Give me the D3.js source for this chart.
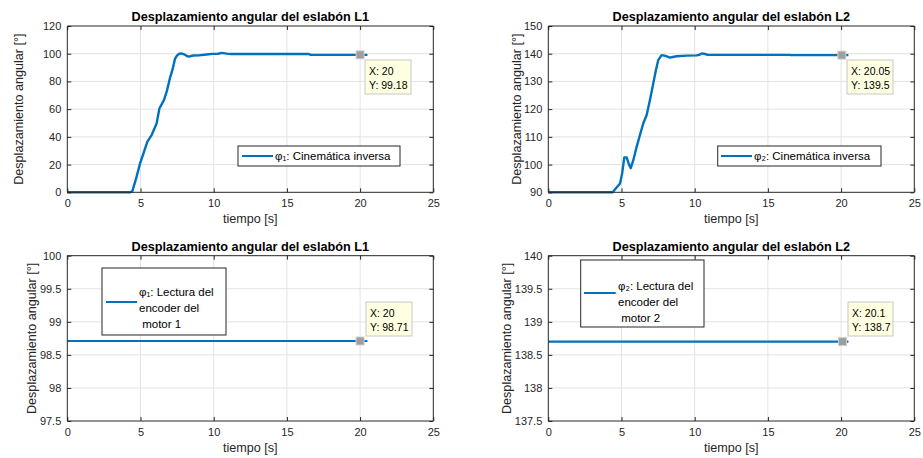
<!DOCTYPE html>
<html><head><meta charset="utf-8">
<script src="https://cdn.jsdelivr.net/npm/d3@7"></script>
<style>
body{margin:0;background:#fff;}
svg{display:block;font-family:"Liberation Sans",Arial,sans-serif;}
</style></head><body>
<svg id="c" width="923" height="458"></svg>
<script>
// ---- data ----
const xTicks = [0,5,10,15,20,25];
const tPhi1 = [0,1,2,3,4,4.3,4.45,4.7,4.97,5.2,5.47,5.76,6.1,6.29,6.6,6.8,7.0,7.2,7.36,7.5,7.65,7.8,7.97,8.15,8.3,8.6,9.0,9.5,9.9,10.3,10.55,10.9,11.2,12,14,16.5,16.6,18,20,20.5];
const phi1 = [0,0,0,0,0,0,1,10,20.9,28,36.5,41.3,49.7,60.5,66.5,73,82,89,96.5,98.8,100,100.2,99.6,98.5,97.9,98.7,98.8,99.4,99.9,100,100.6,100.1,99.8,99.8,99.8,99.8,99.2,99.2,99.18,99.2];
const tPhi2 = [0,1,2,3,4,4.4,4.55,4.71,4.9,5.05,5.19,5.35,5.48,5.63,5.8,6.04,6.25,6.49,6.72,6.95,7.17,7.35,7.51,7.74,8.0,8.31,8.5,8.77,9.45,10.13,10.3,10.48,10.7,10.9,12,14,16.5,16.6,18,20.05,20.5];
const phi2 = [90,90,90,90,90,90,91,92,93.2,97,102.6,102.6,100.5,98.7,101.5,106.5,110.5,114.9,117.9,123.5,129.3,134,137.7,139.5,139.2,138.6,138.8,139.1,139.3,139.4,139.6,140.1,139.9,139.6,139.6,139.6,139.6,139.5,139.5,139.5,139.5];
const tEnc = [0,20.5];
const enc1 = [98.71,98.71];
const enc2 = [138.7,138.7];
const y1Ticks = [0,20,40,60,80,100,120];
const y2Ticks = [90,100,110,120,130,140,150];
const y3Ticks = [97.5,98,98.5,99,99.5,100];
const y4Ticks = [137.5,138,138.5,139,139.5,140];
const titles = ["Desplazamiento angular del eslabón L1","Desplazamiento angular del eslabón L2","Desplazamiento angular del eslabón L1","Desplazamiento angular del eslabón L2"];
const legends = [["φ₁: Cinemática inversa"],["φ₂: Cinemática inversa"],["φ₁: Lectura del","encoder del"," motor 1"],["φ₂: Lectura del","encoder del"," motor 2"]];
const tips = [{x:20,y:99.18,lx:"X: 20",ly:"Y: 99.18"},{x:20.05,y:139.5,lx:"X: 20.05",ly:"Y: 139.5"},{x:20,y:98.71,lx:"X: 20",ly:"Y: 98.71"},{x:20.1,y:138.7,lx:"X: 20.1",ly:"Y: 138.7"}];

const svg = d3.select("#c");
const lineColor = "#0072BD";
const axisColor = "#262626";

const panels = [
 {l:67.3,r:433.3,t:26,b:192.3,dom:[0,120],ticks:y1Ticks,xs:tPhi1,ys:phi1,fmt:d=>d,ylx:19,lw:2.4,
  leg:{x:238,y:146,w:162,h:20,lx1:242,lx2:273,ly:156,tx:275,lines:[160]},
  tip:{bx:365,by:60,bw:46,bh:34}},
 {l:548.3,r:914.3,t:26,b:192.3,dom:[90,150],ticks:y2Ticks,xs:tPhi2,ys:phi2,fmt:d=>d,ylx:517,lw:2.4,
  leg:{x:717.7,y:146,w:163.3,h:20,lx1:721,lx2:752,ly:156,tx:754,lines:[160]},
  tip:{bx:847,by:60,bw:46,bh:34}},
 {l:67.3,r:433.3,t:255.7,b:421,dom:[97.5,100],ticks:y3Ticks,xs:tEnc,ys:enc1,fmt:d3.format("~g"),ylx:32,lw:2.2,
  leg:{x:102,y:268,w:124,h:67,lx1:106,lx2:137,ly:302,tx:139,lines:[296,312,328]},
  tip:{bx:366,by:302,bw:46,bh:34}},
 {l:548.3,r:914.3,t:255.7,b:421,dom:[137.5,140],ticks:y4Ticks,xs:tEnc,ys:enc2,fmt:d3.format("~g"),ylx:507,lw:2.2,
  leg:{x:580.7,y:260,w:123.3,h:67,lx1:584,lx2:615.7,ly:293,tx:618,lines:[290,306,322]},
  tip:{bx:848,by:302,bw:45,bh:34}}
];

panels.forEach((p,i)=>{
  const x = d3.scaleLinear().domain([0,25]).range([p.l,p.r]);
  const y = d3.scaleLinear().domain(p.dom).range([p.b,p.t]);
  const g = svg.append("g");
  g.append("rect").attr("x",p.l).attr("y",p.t).attr("width",p.r-p.l).attr("height",p.b-p.t).attr("fill","#fff");
  g.selectAll(".gx").data(xTicks.slice(1,-1)).join("line")
    .attr("x1",d=>x(d)).attr("x2",d=>x(d)).attr("y1",p.t).attr("y2",p.b)
    .attr("stroke","#e3e3e3").attr("stroke-width",1);
  g.selectAll(".gy").data(p.ticks.slice(1,-1)).join("line")
    .attr("y1",d=>y(d)).attr("y2",d=>y(d)).attr("x1",p.l).attr("x2",p.r)
    .attr("stroke","#e3e3e3").attr("stroke-width",1);
  const line = d3.line().x(d=>x(d[0])).y(d=>y(d[1]));
  g.append("path").datum(p.xs.map((t,k)=>[t,p.ys[k]]))
    .attr("d",line).attr("fill","none").attr("stroke",lineColor)
    .attr("stroke-width",p.lw).attr("stroke-linejoin","round");
  const ax = g.append("g").attr("transform",`translate(0,${p.b})`)
    .call(d3.axisBottom(x).tickValues(xTicks).tickSize(-4).tickPadding(7));
  const ay = g.append("g").attr("transform",`translate(${p.l},0)`)
    .call(d3.axisLeft(y).tickValues(p.ticks).tickFormat(p.fmt).tickSize(-4).tickPadding(6));
  const axT = g.append("g").attr("transform",`translate(0,${p.t})`)
    .call(d3.axisTop(x).tickValues(xTicks).tickSize(-4).tickFormat(""));
  const ayR = g.append("g").attr("transform",`translate(${p.r},0)`)
    .call(d3.axisRight(y).tickValues(p.ticks).tickSize(-4).tickFormat(""));
  [ax,ay,axT,ayR].forEach(a=>{
    a.select(".domain").attr("stroke",axisColor).attr("stroke-width",1);
    a.selectAll(".tick line").attr("stroke",axisColor);
    a.selectAll(".tick text").attr("fill",axisColor).attr("font-size",11)
      .attr("font-family","Liberation Sans, Arial, sans-serif");
  });
  ax.select(".domain").attr("d",`M${p.l},0H${p.r}`);
  axT.select(".domain").attr("d",`M${p.l},0H${p.r}`);
  ay.select(".domain").attr("d",`M0,${p.t}V${p.b}`);
  ayR.select(".domain").attr("d",`M0,${p.t}V${p.b}`);
  g.append("text").attr("x",(p.l+p.r)/2).attr("y",p.t-5).attr("text-anchor","middle")
    .attr("font-size",12.7).attr("font-weight","bold").attr("fill","#000").text(titles[i]);
  g.append("text").attr("x",(p.l+p.r)/2).attr("y",p.b+31).attr("text-anchor","middle")
    .attr("font-size",12.6).attr("fill",axisColor).text("tiempo [s]");
  g.append("text").attr("transform",`translate(${p.ylx+4},${(p.t+p.b)/2}) rotate(-90)`)
    .attr("text-anchor","middle").attr("font-size",12.6).attr("fill",axisColor)
    .text("Desplazamiento angular [°]");
  const L = p.leg;
  g.append("rect").attr("x",L.x).attr("y",L.y).attr("width",L.w).attr("height",L.h)
    .attr("fill","#fff").attr("stroke",axisColor).attr("stroke-width",1);
  g.append("line").attr("x1",L.lx1).attr("x2",L.lx2).attr("y1",L.ly).attr("y2",L.ly)
    .attr("stroke",lineColor).attr("stroke-width",2);
  legends[i].forEach((s,k)=>{
    g.append("text").attr("x",L.tx).attr("y",L.lines[k]).attr("font-size",11.5)
      .attr("fill","#000").style("white-space","pre").text(s);
  });
  const tp = tips[i], T = p.tip;
  g.append("rect").attr("x",T.bx).attr("y",T.by).attr("width",T.bw).attr("height",T.bh)
    .attr("fill","#ffffe1").attr("stroke","#c8c8c8").attr("stroke-width",1);
  g.append("text").attr("x",T.bx+4).attr("y",T.by+15).attr("font-size",10.5).attr("fill","#000").text(tp.lx);
  g.append("text").attr("x",T.bx+4).attr("y",T.by+29).attr("font-size",10.5).attr("fill","#000").text(tp.ly);
  g.append("rect").attr("x",x(tp.x)-4).attr("y",y(tp.y)-4).attr("width",8).attr("height",8)
    .attr("fill","#9e9e9e").attr("stroke","#d0d0d0").attr("stroke-width",1);
});
</script>
</body></html>
